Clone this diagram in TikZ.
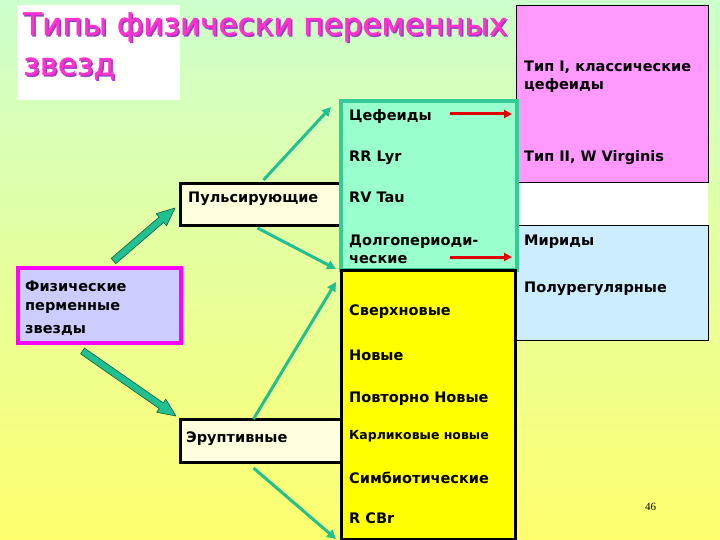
\documentclass[tikz,border=0pt]{standalone}
\usepackage{fontspec}
\setmainfont{DejaVu Sans}
\newfontfamily\titlefont[RawFeature={embolden=1.3}]{DejaVu Sans}
\newfontfamily\numfont{Liberation Serif}
\usetikzlibrary{calc,arrows.meta}
\definecolor{bgtop}{RGB}{204,255,204}
\definecolor{bgbot}{RGB}{255,255,110}
\definecolor{pinkbox}{RGB}{255,153,255}
\definecolor{bluebox}{RGB}{204,236,255}
\definecolor{greenbox}{RGB}{153,255,204}
\definecolor{greenline}{RGB}{51,204,153}
\definecolor{tealarrow}{RGB}{32,192,144}
\definecolor{tealdark}{RGB}{20,90,70}
\definecolor{lav}{RGB}{204,204,255}
\definecolor{magline}{RGB}{255,0,255}
\definecolor{cream}{RGB}{255,255,221}
\definecolor{titlepink}{RGB}{255,51,204}
\definecolor{titleshadow}{RGB}{150,60,200}
\definecolor{redarrow}{RGB}{224,0,0}
\definecolor{yellowbox}{RGB}{255,255,0}
\newcommand\shadowtxt[1]{\makebox[0pt][l]{\hspace{1.5pt}\raisebox{-1.5pt}{\color{titleshadow}#1}}#1}
\begin{document}
\begin{tikzpicture}[x=1pt,y=-1pt,
  box/.style={rectangle,anchor=north west,outer sep=0pt,inner sep=0pt},
  txt/.style={anchor=base west,inner sep=0pt,font=\bfseries\fontsize{14.5}{16}\selectfont},
  smalltxt/.style={anchor=base west,inner sep=0pt,font=\bfseries\fontsize{12.5}{14}\selectfont},
  titletxt/.style={anchor=base west,inner sep=0pt,text=titlepink,font=\titlefont\fontsize{31}{36}\selectfont},
  thinarr/.style={draw=tealarrow,line width=3pt,-{Triangle[length=9pt,width=9pt]}},
  redarr/.style={draw=redarrow,line width=3pt,-{Triangle[length=8pt,width=8pt]}},
  blockarr/.style={fill=tealarrow,draw=tealdark,line width=0.6pt,line join=round}
]
\useasboundingbox (0,0) rectangle (720,540);
\fill[top color=bgtop,bottom color=bgbot] (0,0) rectangle (720,540);
% title
\node[box,fill=white,minimum width=163pt,minimum height=95pt] (tbox) at (17,5) {};
\node[titletxt] (title1) at (23,35) {\shadowtxt{Типы физически переменных}};
\node[titletxt] (title2) at (23,75) {\shadowtxt{звезд}};
% right boxes
\node[box,fill=pinkbox,draw=black,line width=1pt,minimum width=192pt,minimum height=177pt] (pink) at (516,6) {};
\node[box,fill=white,minimum width=192pt,minimum height=43pt] (white) at (516,183) {};
\node[box,fill=bluebox,draw=black,line width=1pt,minimum width=192pt,minimum height=114pt] (blue) at (516,226) {};
% left boxes
\node[box,fill=cream,draw=black,line width=3pt,minimum width=161pt,minimum height=42pt] (puls) at (180,184) {};
\node[box,fill=cream,draw=black,line width=3pt,minimum width=161pt,minimum height=43pt] (erupt) at (180,419) {};
\node[box,fill=lav,draw=magline,line width=3.5pt,minimum width=163pt,minimum height=75pt] (phys) at (18,268) {};
% middle boxes
\node[box,fill=greenbox,draw=greenline,line width=4pt,minimum width=176pt,minimum height=169pt] (green) at (341,101) {};
\node[box,fill=yellowbox,draw=black,line width=3pt,minimum width=174pt,minimum height=269pt] (yellow) at (341,270) {};
% texts
\node[txt] (tp1) at (524,72) {Тип I, классические};
\node[txt] (tp2) at (524,90) {цефеиды};
\node[txt] (tp3) at (524,162) {Тип II, W Virginis};
\node[txt] (tb1) at (524,245) {Мириды};
\node[txt] (tb2) at (524,292) {Полурегулярные};
\node[txt] (tg1) at (349,121) {Цефеиды};
\node[txt] (tg2) at (349,162) {RR Lyr};
\node[txt] (tg3) at (349,203) {RV Tau};
\node[txt] (tg4) at (349,245) {Долгопериоди-};
\node[txt] (tg5) at (349,263) {ческие};
\node[txt] (ty1) at (349,315) {Сверхновые};
\node[txt] (ty2) at (349,360) {Новые};
\node[txt] (ty3) at (349,402) {Повторно Новые};
\node[smalltxt] (ty4) at (349,439) {Карликовые новые};
\node[txt] (ty5) at (349,483) {Симбиотические};
\node[txt] (ty6) at (349,523) {R CBr};
\node[txt] (tpuls) at (188,203) {Пульсирующие};
\node[txt] (terupt) at (186,442) {Эруптивные};
\node[txt] (tph1) at (25,291) {Физические};
\node[txt] (tph2) at (25,310) {перменные};
\node[txt] (tph3) at (25,333) {звезды};
\node[anchor=base west,inner sep=0pt,font=\numfont\fontsize{11}{13}\selectfont] (pnum) at (645,510) {46};
% red arrows
\draw[redarr] ($(tg1.base west)+(101,-7)$) -- ($(tg1.base west -| pink.west)+(-4,-7)$);
\draw[redarr] ($(tg5.base west)+(101,-6)$) -- ($(tg5.base west -| pink.west)+(-4,-6)$);
% thin teal arrows
\draw[thinarr] ($(puls.north)+(3,-4)$) -- ($(green.north west)+(-10,6)$);
\draw[thinarr] ($(puls.south)+(-3,2)$) -- ($(green.south west)+(-5,-1)$);
\draw[thinarr] ($(erupt.north)+(-7,0)$) -- ($(yellow.north west)+(-5,12)$);
\draw[thinarr] ($(erupt.south)+(-7,6)$) -- ($(yellow.south west)+(-5,0)$);
% block arrows
\coordinate (a1s) at ($(phys.north)+(14,-7)$);
\coordinate (a1e) at ($(puls.west)+(-5,3)$);
\coordinate (a1h) at ($(a1e)!18pt!(a1s)$);
\draw[blockarr] ($(a1s)!3.5pt!90:(a1e)$) -- ($(a1h)!3.5pt!-90:(a1s)$) -- ($(a1h)!8pt!-90:(a1s)$) -- (a1e) -- ($(a1h)!8pt!90:(a1s)$) -- ($(a1h)!3.5pt!90:(a1s)$) -- ($(a1s)!3.5pt!-90:(a1e)$) -- cycle;
\coordinate (a2s) at ($(phys.south)+(-17,8)$);
\coordinate (a2e) at ($(erupt.north west)+(-4,-3)$);
\coordinate (a2h) at ($(a2e)!18pt!(a2s)$);
\draw[blockarr] ($(a2s)!3.5pt!90:(a2e)$) -- ($(a2h)!3.5pt!-90:(a2s)$) -- ($(a2h)!8pt!-90:(a2s)$) -- (a2e) -- ($(a2h)!8pt!90:(a2s)$) -- ($(a2h)!3.5pt!90:(a2s)$) -- ($(a2s)!3.5pt!-90:(a2e)$) -- cycle;
\end{tikzpicture}
\end{document}
